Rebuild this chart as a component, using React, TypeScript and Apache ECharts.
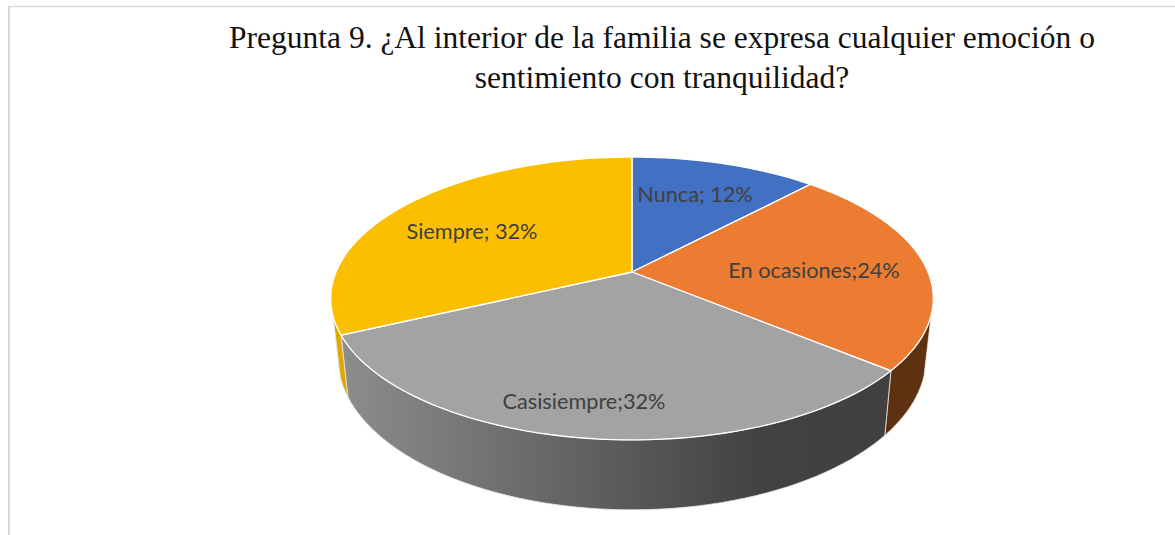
import React, { useEffect, useRef } from "react";
import * as echarts from "echarts";

const titleLines = [
  "Pregunta 9. ¿Al interior de la familia se expresa cualquier emoción o",
  "sentimiento con tranquilidad?",
];
const categories = ["Nunca", "En ocasiones", "Casisiempre", "Siempre"];
const values = [12, 24, 32, 32];
const separators = ["; ", ";", ";", "; "];
const topColors = ["#4270c2", "#eb7c31", "#a3a3a3", "#fcbf00"];

// label centres in page pixels
const labelX = [695, 814, 584, 472];
const labelY = [194, 270, 401, 231];

// projected pie geometry
const CX = 632;
const CY = 272;
const K = -0.187;
const TOP_A = 296;
const TOP_B = 136.5;
const BOT_A = 289;
const BOT_B = 147;
const BOT_DY = 57;
// the side wall is visible only between these two angles (degrees, clockwise from 12 o'clock)
const WALL_FROM = 107.5;
const WALL_TO = 252;
const STEP = 2;

const total = values.reduce((a, b) => a + b, 0);

function sliceAngles(i: number): [number, number] {
  let before = 0;
  for (let j = 0; j < i; j++) before += values[j];
  return [(before / total) * 360, ((before + values[i]) / total) * 360];
}

function topPoint(deg: number): number[] {
  const t = (deg * Math.PI) / 180;
  const X = Math.sin(t);
  const Y = -Math.cos(t);
  const d = 1 + K * Y;
  return [CX + (TOP_A * X) / d, CY + (TOP_B * Y) / d];
}

function bottomPoint(deg: number): number[] {
  const t = (deg * Math.PI) / 180;
  const X = Math.sin(t);
  const Y = -Math.cos(t);
  const d = 1 + K * Y;
  return [CX + (BOT_A * X) / d, CY + BOT_DY + (BOT_B * Y) / d];
}

function sweep(a: number, b: number): number[] {
  const out: number[] = [];
  const n = Math.max(1, Math.ceil((b - a) / STEP));
  for (let i = 0; i <= n; i++) out.push(a + ((b - a) * i) / n);
  return out;
}

function wallFill(i: number): any {
  if (i === 1) return "#5e3210";
  if (i === 3) return "#dea800";
  return new echarts.graphic.LinearGradient(0, 0, 1, 0, [
    { offset: 0, color: "#8d8d8d" },
    { offset: 0.5, color: "#5b5b5b" },
    { offset: 0.76, color: "#424242" },
    { offset: 1, color: "#404040" },
  ]);
}

export default function App() {
  const ref = useRef<HTMLDivElement>(null);

  useEffect(() => {
    document.body.style.margin = "0";
    const chart = echarts.init(ref.current!, undefined, { renderer: "svg" });
    chart.setOption({
      animation: false,
      backgroundColor: "#ffffff",
      title: {
        text: titleLines.join("\n"),
        left: 657,
        top: 13,
        textAlign: "center",
        textStyle: {
          fontFamily: "Liberation Serif",
          fontSize: 31.5,
          fontWeight: "normal",
          color: "#111111",
          lineHeight: 39.5,
        },
      },
      graphic: [
        {
          type: "line",
          shape: { x1: 9, y1: 6, x2: 9, y2: 535 },
          style: { stroke: "#d9d9d9", lineWidth: 2 },
        },
        {
          type: "line",
          shape: { x1: 8, y1: 6.5, x2: 1175, y2: 6.5 },
          style: { stroke: "#d9d9d9", lineWidth: 1.5 },
        },
      ],
      series: [
        {
          type: "custom",
          coordinateSystem: "none",
          silent: true,
          z: 2,
          data: values,
          renderItem: (params: any) => {
            const i = params.dataIndex;
            const [a0, a1] = sliceAngles(i);
            const from = Math.max(a0, WALL_FROM);
            const to = Math.min(a1, WALL_TO);
            if (to <= from) return { type: "group", children: [] };
            const angles = sweep(from, to);
            const points = [
              ...angles.map(topPoint),
              ...angles.slice().reverse().map(bottomPoint),
            ];
            return {
              type: "polygon",
              shape: { points },
              style: { fill: wallFill(i), stroke: "#e6e6e6", lineWidth: 0.8 },
            };
          },
        },
        {
          type: "custom",
          coordinateSystem: "none",
          silent: true,
          z: 3,
          data: values,
          renderItem: (params: any) => {
            const i = params.dataIndex;
            const [a0, a1] = sliceAngles(i);
            const points = [[CX, CY], ...sweep(a0, a1).map(topPoint)];
            return {
              type: "polygon",
              shape: { points },
              style: { fill: topColors[i], stroke: "#ffffff", lineWidth: 1.3 },
            };
          },
        },
        {
          type: "custom",
          coordinateSystem: "none",
          silent: true,
          z: 4,
          data: values,
          renderItem: (params: any) => {
            const i = params.dataIndex;
            return {
              type: "text",
              style: {
                x: labelX[i],
                y: labelY[i],
                text: `${categories[i]}${separators[i]}${values[i]}%`,
                fill: "#404040",
                font: '21.7px "Lato"',
                align: "center",
                verticalAlign: "middle",
              },
            };
          },
        },
      ],
    });
    return () => chart.dispose();
  }, []);

  return <div ref={ref} style={{ width: 1175, height: 535 }} />;
}
